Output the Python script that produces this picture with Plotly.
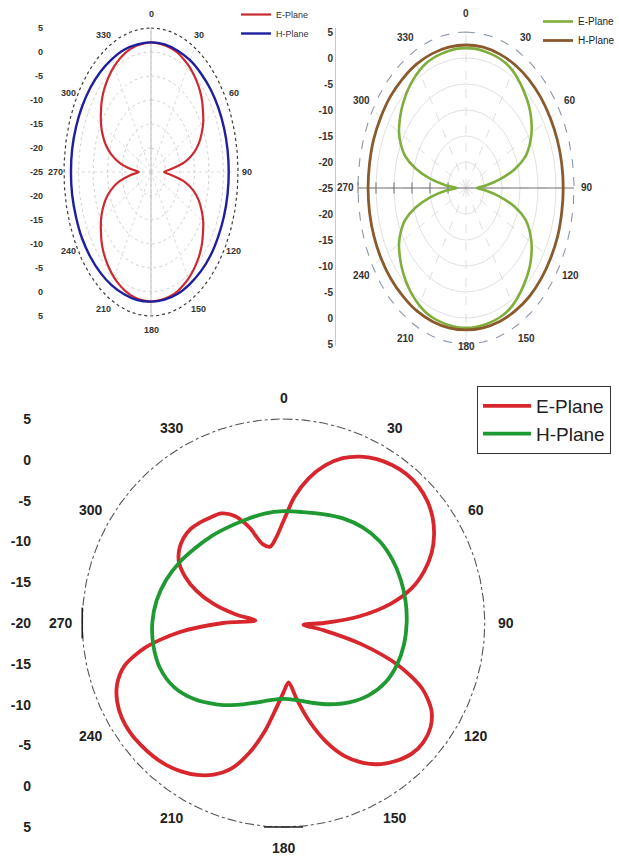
import numpy as np
import plotly.graph_objects as go

W, H = 619, 856
FONT = "Liberation Sans, Arial, sans-serif"

# ---------------- data (gain in dB versus angle in degrees) ----------------
ANG5 = list(range(0, 365, 5))
ANG10 = list(range(0, 370, 10))
ANGLE_LABELS = [0, 30, 60, 90, 120, 150, 180, 210, 240, 270, 300, 330]

# top-left antenna
a_e_plane = [2.0, 1.9, 1.8, 1.7, 1.5, 1.1, 0.7, 0.2, -0.4, -1.1, -2.0, -3.1, -4.2, -5.7, -7.4, -9.8,
             -13.2, -18.0, -20.5, -18.0, -13.2, -9.8, -7.4, -5.7, -4.2, -3.1, -2.0, -1.1, -0.4, 0.2,
             0.7, 1.1, 1.5, 1.7, 1.8, 1.9, 2.0,
             1.9, 1.8, 1.6, 1.3, 0.9, 0.4, -0.2, -0.9, -1.7, -2.7, -3.9, -5.1, -6.6, -8.4, -10.8,
             -14.0, -18.0, -20.8, -18.0, -14.0, -10.8, -8.4, -6.6, -5.1, -3.9, -2.7, -1.7, -0.9,
             -0.2, 0.4, 0.9, 1.3, 1.6, 1.8, 1.9, 2.0]
a_h_plane = [2.0, 2.0, 1.9, 1.9, 1.8, 1.8, 1.8, 1.8, 1.8, 1.8, 1.8, 1.8, 1.8, 1.9, 1.9, 1.9, 2.0, 2.0,
             2.0, 2.1, 2.1, 2.2, 2.3, 2.4, 2.5, 2.5, 2.6, 2.6, 2.6, 2.5, 2.4, 2.3, 2.2, 2.1, 2.1, 2.0, 2.0]

# top-right antenna
b_e_plane = [1.9, 1.9, 1.8, 1.7, 1.6, 1.4, 1.0, 0.4, -0.3, -1.0, -1.8, -2.8, -4.0, -5.5, -7.5, -11.0,
             -15.5, -19.5, -22.0, -19.5, -15.5, -11.0, -7.5, -5.5, -4.0, -2.8, -1.8, -1.0, -0.3, 0.4,
             1.0, 1.4, 1.6, 1.7, 1.8, 1.9, 1.9,
             1.9, 1.8, 1.7, 1.6, 1.4, 1.0, 0.5, -0.1, -0.8, -1.6, -2.5, -3.5, -5.0, -7.0, -10.5,
             -15.0, -19.5, -22.5, -19.5, -15.0, -10.5, -7.0, -5.0, -3.5, -2.5, -1.6, -0.8, -0.1,
             0.5, 1.0, 1.4, 1.6, 1.7, 1.8, 1.9, 1.9]
b_h_plane = [2.5, 2.5, 2.4, 2.3, 2.2, 2.1, 2.0, 2.0, 2.0, 2.0, 2.0, 2.1, 2.1, 2.2, 2.3, 2.3, 2.3, 2.3,
             2.3, 2.3, 2.3, 2.3, 2.2, 2.2, 2.2, 2.2, 2.2, 2.2, 2.2, 2.3, 2.3, 2.4, 2.4, 2.5, 2.5, 2.5, 2.5]

# bottom antenna
c_e_plane = [-7.5, -4.5, -2.0, 0.0, 1.5, 2.5, 3.2, 3.6, 3.8, 3.7, 3.3, 2.6, 1.6, 0.3, -1.4, -3.5,
             -6.5, -10.5, -15.0, -17.5, -15.0, -10.0, -4.8, -1.0, 1.2, 2.3, 2.7, 2.6, 2.0, 1.1,
             -0.2, -2.0, -4.5, -7.5, -10.5, -12.7, -11.5, -9.5, -6.5, -3.5, -1.0, 0.5, 1.5, 2.2,
             2.7, 3.0, 3.2, 3.3, 3.2, 2.8, 2.0, 0.5, -2.5, -7.0, -12.5, -16.5, -14.0, -11.0, -8.5,
             -6.5, -5.0, -4.2, -3.8, -3.7, -3.9, -4.2, -4.5, -5.5, -7.5, -10.0, -10.5, -9.5, -7.5]
c_h_plane = [-6.3, -6.2, -5.8, -5.2, -4.7, -4.4, -4.4, -4.5, -4.6, -4.7, -4.8, -5.0, -5.4, -6.2, -7.3,
             -8.5, -9.6, -10.4, -10.7, -10.4, -9.6, -8.4, -7.0, -5.5, -4.3, -3.7, -3.6, -3.7, -4.0,
             -4.5, -5.1, -5.7, -6.1, -6.4, -6.5, -6.4, -6.3]

# ---------------- panel geometry ----------------
# centre (px), px per dB horizontally / vertically, plot box (x0, x1, y0, y1) in px,
# distance of the angle labels from the centre (dB above the floor), per-angle overrides
PANELS = [
    dict(name="", cx=151, cy=172, kx=2.9, ky=4.8, box=(44, 262, 10, 335), rmin=-25, rmax=5,
         tick_font=dict(family=FONT, size=9, color="#333", weight="bold"),
         lab_font=dict(family=FONT, size=9, color="#333", weight="bold"), lab_r=33.0,
         lab_r_at={}),
    dict(name="2", cx=466, cy=188, kx=3.6, ky=5.2, box=(336, 605, 28, 346), rmin=-25, rmax=5,
         tick_font=dict(family=FONT, size=10, color="#333", weight="bold"),
         lab_font=dict(family=FONT, size=10, color="#333", weight="bold"), lab_r=33.5,
         lab_r_at={180: 30.5}),
    dict(name="3", cx=283.5, cy=623, kx=8.05, ky=8.16, box=(32, 520, 380, 852), rmin=-20, rmax=5,
         tick_font=dict(family=FONT, size=14, color="#222", weight="bold"),
         lab_font=dict(family=FONT, size=14, color="#222", weight="bold"), lab_r=27.6,
         lab_r_at={}),
]


def to_xy(theta, gain, rmin):
    t = np.radians(np.asarray(theta, dtype=float))
    u = np.asarray(gain, dtype=float) - rmin
    return u * np.sin(t), u * np.cos(t)


fig = go.Figure()
layout = dict(width=W, height=H, margin=dict(l=0, r=0, t=0, b=0, autoexpand=False),
              autosize=False, paper_bgcolor="white", plot_bgcolor="white", showlegend=True)
annotations = []

circle_t = np.linspace(0, 360, 361)

for p in PANELS:
    x0, x1, y0, y1 = p["box"]
    span = p["rmax"] - p["rmin"]
    xa, ya = "xaxis" + p["name"], "yaxis" + p["name"]
    xr, yr = "x" + p["name"], "y" + p["name"]
    layout[xa] = dict(domain=[x0 / W, x1 / W],
                      range=[(x0 - p["cx"]) / p["kx"], (x1 - p["cx"]) / p["kx"]],
                      showgrid=False, zeroline=False, showticklabels=False, ticks="",
                      showline=False, fixedrange=True, anchor=yr)
    tickvals = list(range(-span, span + 1, 5))
    layout[ya] = dict(domain=[1 - y1 / H, 1 - y0 / H],
                      range=[(p["cy"] - y1) / p["ky"], (p["cy"] - y0) / p["ky"]],
                      showgrid=False, zeroline=False, ticks="",
                      tickvals=tickvals,
                      ticktext=[str(p["rmin"] + abs(v)) for v in tickvals],
                      tickfont=p["tick_font"], showline=(p["name"] == "2"),
                      linecolor="#c8c8c8", linewidth=1, anchor=xr, fixedrange=True)
    # angle labels sit just outside the outer ring; placed in paper space so
    # they are never clipped by the axis range
    for ang in ANGLE_LABELS:
        lr = p["lab_r_at"].get(ang, p["lab_r"])
        lx, ly = to_xy([ang], [lr + p["rmin"]], p["rmin"])
        px = p["cx"] + float(lx[0]) * p["kx"]
        py = p["cy"] - float(ly[0]) * p["ky"]
        annotations.append(dict(x=px / W, y=1 - py / H, xref="paper", yref="paper",
                                xanchor="center", yanchor="middle",
                                text=str(ang), showarrow=False, font=p["lab_font"]))

PA, PB, PC = PANELS


def add_line(panel, theta, gain, color, width, dash="solid", name=None, legend=None, spline=False):
    x, y = to_xy(theta, gain, panel["rmin"])
    fig.add_trace(go.Scatter(
        x=x, y=y, mode="lines", xaxis="x" + panel["name"], yaxis="y" + panel["name"],
        line=dict(color=color, width=width, dash=dash, shape="spline" if spline else "linear",
                  smoothing=0.8),
        name=name, showlegend=name is not None, legend=legend, hoverinfo="skip"))


# ----- grid of the top-left chart -----
for ring in range(-20, 5, 5):
    add_line(PA, circle_t, [ring] * len(circle_t), "#c4c4c4", 0.8, "dot")
add_line(PA, circle_t, [PA["rmax"]] * len(circle_t), "#3a3a3a", 1.2, "dot")
for sp in range(0, 360, 30):
    add_line(PA, [sp, sp], [PA["rmin"], PA["rmax"]], "#d2d2d2", 0.8, "dot")
add_line(PA, [0, 180], [PA["rmax"], PA["rmax"]], "#c0c0c0", 1.0)

# ----- grid of the top-right chart -----
for ring in range(-20, 5, 5):
    add_line(PB, circle_t, [ring] * len(circle_t), "#dcdcdc", 0.9)
for sp in range(0, 360, 30):
    add_line(PB, [sp, sp], [PB["rmin"], PB["rmax"]], "#d6d6d6", 0.8, "dash")
add_line(PB, circle_t, [PB["rmax"]] * len(circle_t), "#8a97ab", 1.1, "dash")
add_line(PB, [270, 90], [PB["rmax"], PB["rmax"]], "#707070", 1.0)
tx, ty = to_xy([270] * 6, list(range(-20, 10, 5)), PB["rmin"])
fig.add_trace(go.Scatter(x=tx, y=ty, mode="markers", xaxis="x2", yaxis="y2",
                         marker=dict(symbol="line-ns-open", size=8, color="#707070",
                                     line=dict(width=1, color="#707070")),
                         showlegend=False, hoverinfo="skip"))

# ----- grid of the bottom chart -----
add_line(PC, circle_t, [PC["rmax"]] * len(circle_t), "#555555", 1.1, "dashdot")
for sym, ang, size in (("line-ns-open", 270, 22), ("line-ew-open", 180, 28)):
    mx, my = to_xy([ang], [PC["rmax"]], PC["rmin"])
    fig.add_trace(go.Scatter(x=mx, y=my, mode="markers", xaxis="x3", yaxis="y3",
                             marker=dict(symbol=sym, size=size, color="#222",
                                         line=dict(width=1.6, color="#222")),
                             showlegend=False, hoverinfo="skip"))

# ----- radiation patterns -----
add_line(PA, ANG5, a_e_plane, "#cc2a30", 2.2, name="E-Plane", legend="legend", spline=True)
add_line(PA, ANG10, a_h_plane, "#1f1f9e", 2.4, name="H-Plane", legend="legend", spline=True)
add_line(PB, ANG5, b_e_plane, "#7fae3c", 2.6, name="E-Plane", legend="legend2", spline=True)
add_line(PB, ANG10, b_h_plane, "#8a5a2c", 2.8, name="H-Plane", legend="legend2", spline=True)
add_line(PC, ANG5, c_e_plane, "#d8262d", 3.8, name="E-Plane", legend="legend3", spline=True)
add_line(PC, ANG10, c_h_plane, "#1f9a32", 3.8, name="H-Plane", legend="legend3", spline=True)

layout["legend"] = dict(x=236 / W, y=1.0, xanchor="left", yanchor="top",
                        font=dict(family=FONT, size=9, color="#333"), bgcolor="rgba(0,0,0,0)",
                        tracegroupgap=0)
layout["legend2"] = dict(x=538 / W, y=1 - 7 / H, xanchor="left", yanchor="top",
                         font=dict(family=FONT, size=10, color="#222"), bgcolor="rgba(0,0,0,0)",
                         tracegroupgap=0)
layout["legend3"] = dict(x=477 / W, y=1 - 386 / H, xanchor="left", yanchor="top",
                         font=dict(family=FONT, size=19, color="#222"), bgcolor="white",
                         bordercolor="#333", borderwidth=1, tracegroupgap=0, itemwidth=48)
layout["annotations"] = annotations
fig.update_layout(**layout)

fig.write_html("out.html")
